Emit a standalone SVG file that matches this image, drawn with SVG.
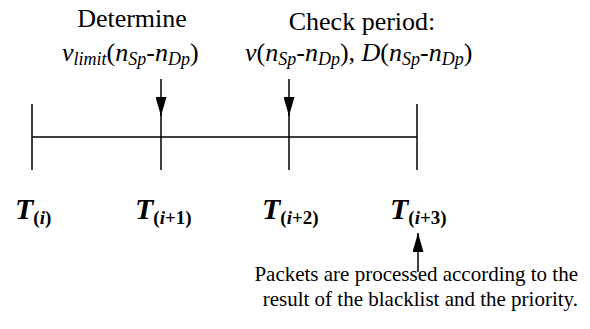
<svg xmlns="http://www.w3.org/2000/svg" width="590" height="329" viewBox="0 0 590 329">
<defs>
  <marker id="arr" viewBox="0 0 19 11" refX="19" refY="5.5" markerWidth="19" markerHeight="11" markerUnits="userSpaceOnUse" orient="auto">
    <path d="M0,0 L19,5.5 L0,11 z" fill="#000"/>
  </marker>
</defs>
<rect width="590" height="329" fill="#fff"/>
<g id="connectors" stroke="#000" stroke-width="1.5" fill="none">
  <line x1="32" y1="137" x2="417" y2="137"/>
  <line x1="32" y1="104" x2="32" y2="170"/>
  <line x1="161" y1="104" x2="161" y2="170"/>
  <line x1="289" y1="104" x2="289" y2="170"/>
  <line x1="417" y1="104" x2="417" y2="170"/>
  <line x1="161" y1="79" x2="161" y2="116" marker-end="url(#arr)"/>
  <line x1="289" y1="79" x2="289" y2="116" marker-end="url(#arr)"/>
  <line x1="418" y1="272" x2="418" y2="233" marker-end="url(#arr)"/>
</g>
<g id="determine">
  <text x="132" y="27" text-anchor="middle" style="font-family:'Liberation Serif'" font-size="26">Determine</text>
  <text x="62" y="61" style="font-family:'Liberation Serif'" font-size="26"><tspan font-style="italic">v</tspan><tspan font-size="18" font-style="italic" dy="4">limit</tspan><tspan dy="-4">(</tspan><tspan font-style="italic">n</tspan><tspan font-size="18" font-style="italic" dy="4">Sp</tspan><tspan dy="-4">-</tspan><tspan font-style="italic">n</tspan><tspan font-size="18" font-style="italic" dy="4">Dp</tspan><tspan dy="-4">)</tspan></text>
</g>
<g id="check">
  <text x="362" y="30" text-anchor="middle" style="font-family:'Liberation Serif'" font-size="26">Check period:</text>
  <text x="245" y="61" style="font-family:'Liberation Serif'" font-size="26"><tspan font-style="italic">v</tspan>(<tspan font-style="italic">n</tspan><tspan font-size="18" font-style="italic" dy="4">Sp</tspan><tspan dy="-4">-</tspan><tspan font-style="italic">n</tspan><tspan font-size="18" font-style="italic" dy="4">Dp</tspan><tspan dy="-4">), </tspan><tspan font-style="italic">D</tspan>(<tspan font-style="italic">n</tspan><tspan font-size="18" font-style="italic" dy="4">Sp</tspan><tspan dy="-4">-</tspan><tspan font-style="italic">n</tspan><tspan font-size="18" font-style="italic" dy="4">Dp</tspan><tspan dy="-4">)</tspan></text>
</g>
<g id="t0"><text x="15" y="219" style="font-family:'Liberation Serif'" font-weight="bold" font-size="30" font-style="italic">T<tspan font-size="19" font-style="normal" dy="5">(<tspan font-style="italic">i</tspan>)</tspan></text></g>
<g id="t1"><text x="135" y="219" style="font-family:'Liberation Serif'" font-weight="bold" font-size="30" font-style="italic">T<tspan font-size="19" font-style="normal" dy="5">(<tspan font-style="italic">i</tspan>+1)</tspan></text></g>
<g id="t2"><text x="262" y="219" style="font-family:'Liberation Serif'" font-weight="bold" font-size="30" font-style="italic">T<tspan font-size="19" font-style="normal" dy="5">(<tspan font-style="italic">i</tspan>+2)</tspan></text></g>
<g id="t3"><text x="390" y="219" style="font-family:'Liberation Serif'" font-weight="bold" font-size="30" font-style="italic">T<tspan font-size="19" font-style="normal" dy="5">(<tspan font-style="italic">i</tspan>+3)</tspan></text></g>
<g id="note">
  <text x="578" y="281" text-anchor="end" style="font-family:'Liberation Serif'" font-size="21">Packets are processed according to the</text>
  <text x="578" y="306" text-anchor="end" style="font-family:'Liberation Serif'" font-size="21">result of the blacklist and the priority.</text>
</g>
</svg>
